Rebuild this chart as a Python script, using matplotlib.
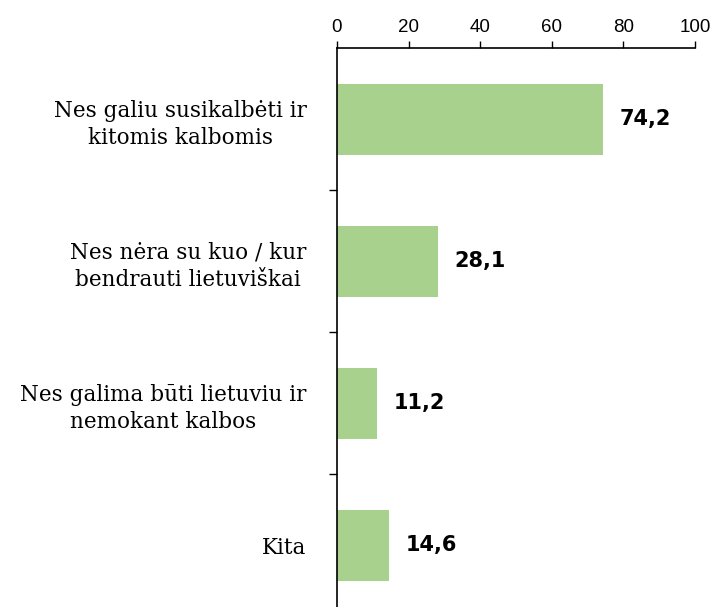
import numpy as np
import matplotlib.pyplot as plt

# Data
categories = ["Nes galiu susikalbėti ir\nkitomis kalbomis",
              "Nes nėra su kuo / kur\nbendrauti lietuviškai",
              "Nes galima būti lietuviu ir\nnemokant kalbos",
              "Kita"]
values = [74.2, 28.1, 11.2, 14.6]
value_labels = ["74,2", "28,1", "11,2", "14,6"]
x_ticks = [0, 20, 40, 60, 80, 100]

# Figure
fig = plt.figure(figsize=(7.13, 6.07), dpi=100)
ax = fig.add_axes([337 / 713, 1 - 616 / 607, 358 / 713, 568 / 607])

y = np.arange(len(categories))
ax.barh(y, values, height=0.5, color="#a9d18e", edgecolor="none")

ax.set_xlim(0, 100)
ax.set_ylim(len(categories) - 0.5, -0.5)

# x axis on top
ax.xaxis.tick_top()
ax.set_xticks(x_ticks)
ax.set_xticklabels([str(t) for t in x_ticks], fontsize=13.5, family="Liberation Sans")
ax.tick_params(axis="x", direction="out", length=5, width=1, pad=4)

# y axis: ticks between categories, labels at centres
ax.set_yticks(y)
ax.set_yticklabels(categories, fontsize=15.5, family="DejaVu Serif",
                   multialignment="center", linespacing=1.3)
ax.set_yticks(np.arange(0.5, len(categories) - 0.5, 1), minor=True)
ax.tick_params(axis="y", which="major", length=0, pad=22)
ax.tick_params(axis="y", which="minor", direction="out", length=6, width=1)

for side in ["right", "bottom"]:
    ax.spines[side].set_visible(False)
for side in ["top", "left"]:
    ax.spines[side].set_linewidth(1.2)

# value labels
for yi, v, lab in zip(y, values, value_labels):
    ax.annotate(lab, (v, yi), xytext=(12, 0), textcoords="offset points",
                va="center", ha="left", fontsize=15, fontweight="bold",
                family="DejaVu Sans")

fig.savefig("out.png", dpi=100)
